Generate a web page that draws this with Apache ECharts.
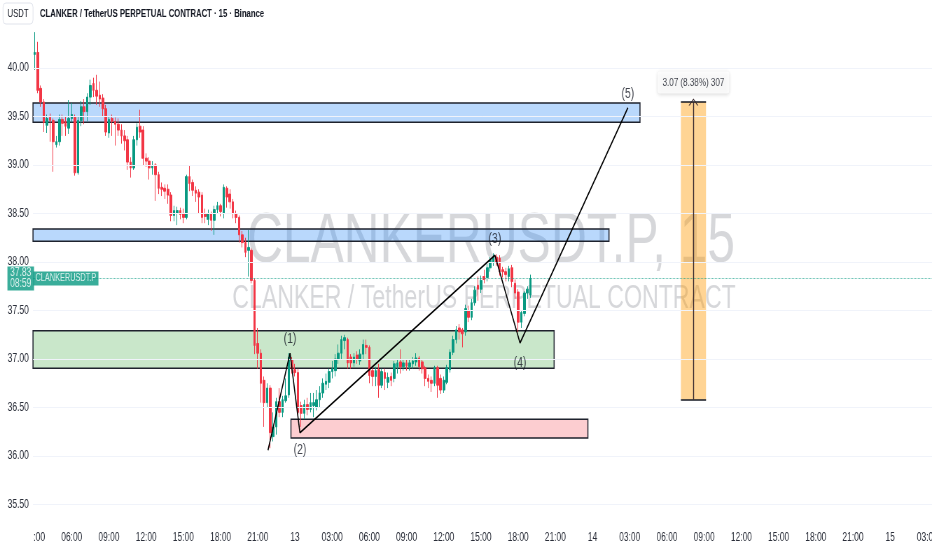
<!DOCTYPE html>
<html>
<head>
<meta charset="utf-8">
<title>CLANKERUSDT.P 15</title>
<script src="https://cdn.jsdelivr.net/npm/echarts@6/dist/echarts.min.js"></script>
<style>
  html, body { margin: 0; padding: 0; background: #fff; overflow: hidden; }
  /* the reference screenshot is squeezed horizontally, draw wide and squeeze the same way */
  #chart { width: 1331px; height: 550px; transform: scaleX(0.70023); transform-origin: 0 0; }
</style>
</head>
<body>
<div id="chart"></div>
<script>
var FONT = "'Liberation Sans', Arial, sans-serif";
var S = 932 / 1331;
function sx(px) { return px / S; }

// 15 min candles from 12th 03:00, [open, close, low, high]
var candles = [
  [40.14, 40.16, 39.98, 40.37], [40.16, 39.77, 39.74, 40.27], [39.79, 39.65, 39.60, 39.82], [39.65, 39.44, 39.34, 39.68],
  [39.41, 39.48, 39.33, 39.52], [39.49, 39.46, 39.24, 39.53], [39.46, 39.24, 38.93, 39.48], [39.21, 39.24, 39.18, 39.30],
  [39.24, 39.47, 39.20, 39.52], [39.47, 39.43, 39.30, 39.52], [39.45, 39.40, 39.30, 39.50], [39.38, 39.48, 39.32, 39.67],
  [39.48, 39.52, 39.44, 39.64], [39.49, 38.92, 38.89, 39.52], [38.92, 39.46, 38.90, 39.50], [39.46, 39.60, 39.40, 39.66],
  [39.60, 39.55, 39.42, 39.68], [39.55, 39.70, 39.45, 39.74], [39.70, 39.82, 39.62, 39.88], [39.84, 39.77, 39.70, 39.90],
  [39.77, 39.71, 39.62, 39.93], [39.72, 39.68, 39.60, 39.86], [39.69, 39.58, 39.50, 39.73], [39.58, 39.34, 39.30, 39.62],
  [39.33, 39.47, 39.28, 39.50], [39.48, 39.45, 39.30, 39.52], [39.45, 39.42, 39.20, 39.49], [39.42, 39.36, 39.30, 39.48],
  [39.36, 39.30, 39.22, 39.42], [39.30, 39.25, 39.15, 39.36], [39.26, 39.03, 38.95, 39.30], [39.03, 38.97, 38.87, 39.08],
  [38.97, 39.26, 38.95, 39.30], [39.26, 39.39, 39.20, 39.43], [39.40, 39.34, 39.28, 39.57], [39.36, 39.07, 39.00, 39.40],
  [39.07, 39.04, 38.98, 39.12], [39.04, 38.97, 38.85, 39.08], [38.97, 38.99, 38.90, 39.04], [39.00, 38.90, 38.63, 39.02],
  [38.90, 38.76, 38.70, 38.93], [38.77, 38.75, 38.68, 38.82], [38.76, 38.73, 38.65, 38.80], [38.75, 38.69, 38.60, 38.80],
  [38.69, 38.48, 38.42, 38.72], [38.48, 38.53, 38.42, 38.58], [38.50, 38.53, 38.38, 38.57], [38.53, 38.49, 38.44, 38.56],
  [38.50, 38.46, 38.40, 38.55], [38.46, 38.88, 38.44, 38.90], [38.88, 38.81, 38.73, 39.00], [38.82, 38.74, 38.68, 38.85],
  [38.74, 38.71, 38.62, 38.78], [38.72, 38.67, 38.50, 38.75], [38.69, 38.46, 38.40, 38.72], [38.50, 38.47, 38.40, 38.55],
  [38.44, 38.50, 38.38, 38.54], [38.50, 38.43, 38.32, 38.52], [38.43, 38.54, 38.28, 38.58], [38.54, 38.58, 38.50, 38.62],
  [38.58, 38.52, 38.47, 38.60], [38.50, 38.77, 38.45, 38.80], [38.76, 38.67, 38.56, 38.78], [38.70, 38.62, 38.55, 38.75],
  [38.62, 38.50, 38.45, 38.65], [38.50, 38.46, 38.40, 38.53], [38.46, 38.28, 38.20, 38.48], [38.28, 38.20, 38.15, 38.32],
  [38.20, 38.10, 38.05, 38.25], [38.12, 38.15, 37.85, 38.33], [38.12, 37.81, 37.78, 38.14], [37.81, 37.14, 37.05, 37.83],
  [37.16, 37.06, 36.90, 37.32], [37.06, 36.75, 36.55, 37.10], [36.78, 36.55, 36.30, 36.82], [36.55, 36.70, 36.50, 36.75],
  [36.70, 36.24, 36.08, 36.73], [36.20, 36.30, 36.15, 36.45], [36.30, 36.56, 36.22, 36.60], [36.56, 36.45, 36.40, 36.70],
  [36.45, 36.58, 36.40, 36.62], [36.57, 36.62, 36.55, 36.80], [36.63, 37.02, 36.60, 37.06], [36.99, 36.90, 36.85, 37.02],
  [36.89, 36.86, 36.82, 36.95], [36.86, 36.45, 36.42, 36.90], [36.52, 36.44, 36.30, 36.56], [36.44, 36.53, 36.38, 36.58],
  [36.53, 36.48, 36.42, 36.60], [36.48, 36.55, 36.45, 36.65], [36.52, 36.55, 36.40, 36.65], [36.50, 36.58, 36.47, 36.68],
  [36.58, 36.65, 36.50, 36.72], [36.65, 36.75, 36.60, 36.80], [36.74, 36.77, 36.68, 36.85], [36.76, 36.87, 36.70, 36.90],
  [36.87, 36.90, 36.80, 36.98], [36.88, 37.00, 36.82, 37.05], [37.00, 37.06, 36.95, 37.15], [37.06, 37.20, 37.00, 37.24],
  [37.19, 37.22, 37.10, 37.25], [37.20, 36.96, 36.90, 37.22], [37.02, 36.96, 36.90, 37.05], [36.96, 37.02, 36.92, 37.06],
  [37.04, 37.00, 36.95, 37.08], [36.98, 37.05, 36.94, 37.10], [37.05, 37.15, 37.00, 37.20], [37.14, 37.12, 37.05, 37.20],
  [37.12, 36.83, 36.75, 37.14], [36.88, 36.82, 36.72, 36.92], [36.82, 36.88, 36.72, 36.92], [36.89, 36.73, 36.60, 36.95],
  [36.73, 36.87, 36.70, 36.90], [36.86, 36.80, 36.68, 36.90], [36.76, 36.81, 36.70, 36.86], [36.82, 36.78, 36.72, 36.86],
  [36.80, 36.95, 36.76, 36.98], [36.92, 36.96, 36.85, 37.00], [36.97, 36.92, 36.85, 37.10], [36.92, 36.96, 36.88, 37.00],
  [36.96, 36.93, 36.88, 37.00], [36.92, 36.96, 36.88, 37.00], [36.95, 36.98, 36.90, 37.02], [36.97, 37.01, 36.93, 37.06],
  [37.01, 36.92, 36.88, 37.03], [36.97, 36.90, 36.85, 37.00], [36.91, 36.80, 36.72, 36.93], [36.80, 36.77, 36.70, 36.84],
  [36.78, 36.75, 36.66, 36.82], [36.75, 36.91, 36.72, 36.93], [36.91, 36.73, 36.60, 36.93], [36.80, 36.68, 36.64, 36.84],
  [36.68, 36.78, 36.65, 36.82], [36.76, 36.91, 36.74, 36.94], [36.89, 37.07, 36.86, 37.10], [37.07, 37.20, 37.04, 37.24],
  [37.20, 37.30, 37.16, 37.34], [37.32, 37.28, 37.20, 37.36], [37.30, 37.26, 37.12, 37.32], [37.28, 37.52, 37.24, 37.56],
  [37.50, 37.43, 37.38, 37.55], [37.43, 37.58, 37.40, 37.62], [37.58, 37.71, 37.55, 37.75], [37.76, 37.72, 37.60, 37.85],
  [37.72, 37.81, 37.68, 37.86], [37.85, 37.82, 37.78, 37.92], [37.84, 37.94, 37.80, 37.98], [37.94, 38.02, 37.90, 38.05],
  [38.00, 38.05, 37.96, 38.09], [38.05, 38.00, 37.96, 38.08], [38.04, 37.90, 37.86, 38.07], [37.92, 37.90, 37.84, 37.95],
  [37.90, 37.87, 37.80, 37.94], [37.85, 37.93, 37.80, 37.96], [37.94, 37.80, 37.74, 37.97], [37.78, 37.68, 37.62, 37.82],
  [37.69, 37.38, 37.28, 37.72], [37.38, 37.48, 37.32, 37.50], [37.47, 37.68, 37.44, 37.70], [37.68, 37.72, 37.62, 37.75],
  [37.66, 37.83, 37.63, 37.87]
];

var slotCount = 290;          // 15 min slots on the time scale
var startMinutes = 3 * 60;    // 12th, 03:00
var startDay = 12;
var priceTicks = [35.5, 36.0, 36.5, 37.0, 37.5, 38.0, 38.5, 39.0, 39.5, 40.0];
var lastPrice = 37.83;
var countdown = '08:59';
var symbolName = 'CLANKERUSDT.P';

// drawings: x in slot units, y in price
var zoneFrom = [-0.5, -0.5, -0.5, 82.7];
var zoneTo = [195.3, 185.3, 167.6, 178.5];
var zoneTop = [39.64, 38.34, 37.29, 36.38];
var zoneBottom = [39.44, 38.215, 36.905, 36.185];
var zoneFill = ['rgba(50,140,245,0.34)', 'rgba(50,140,245,0.34)', 'rgba(76,175,80,0.3)', 'rgba(242,54,69,0.25)'];

var waveX = [75.3, 82.4, 85.6, 148.5, 156.6, 191.4];
var waveY = [36.06, 37.06, 36.24, 38.07, 37.165, 39.59];
var waveNames = ['', '(1)', '(2)', '(3)', '(4)', '(5)'];
var wavePos = ['top', 'top', 'bottom', 'top', 'bottom', 'top'];
var waveGap = [0, 6, 9, 8, 12, 6];

var measureFrom = 208.5, measureTo = 216.6;
var measureLow = 36.58, measureHigh = 39.65;
var measureText = '3.07 (8.38%) 307';

function pad(n) { return n < 10 ? '0' + n : '' + n; }

var categories = [];
for (var i = 0; i < slotCount; i++) {
    var mins = startMinutes + i * 15;
    var m = mins % 1440;
    var day = startDay + Math.floor(mins / 1440);
    categories.push(m === 0 ? String(day) : pad(Math.floor(m / 60)) + ':' + pad(m % 60));
}

var up = '#089981', down = '#f23645';
var measureMid = (measureFrom + measureTo) / 2;

var chart = echarts.init(document.getElementById('chart'));

var zoneAreas = zoneFrom.map(function (x, k) {
    return [
        { coord: [x, zoneTop[k]], itemStyle: { color: zoneFill[k], borderColor: '#1e222d', borderWidth: 1.5 } },
        { coord: [zoneTo[k], zoneBottom[k]] }
    ];
});
zoneAreas.push([
    { coord: [measureFrom, measureHigh], itemStyle: { color: 'rgba(255,152,0,0.42)', borderWidth: 0 } },
    { coord: [measureTo, measureLow] }
]);

chart.setOption({
    animation: false,
    grid: { left: sx(33), right: 0, top: 25, bottom: 25, containLabel: false, outerBoundsMode: 'none' },
    xAxis: [{
        type: 'category',
        data: categories,
        boundaryGap: true,
        axisLine: { show: false },
        axisTick: { show: false },
        splitLine: { show: false },
        axisLabel: {
            interval: function (idx) { return idx % 12 === 0; },
            margin: 7,
            fontSize: 12,
            color: '#2a2e39',
            fontFamily: FONT
        }
    }, {
        type: 'value',
        min: -0.5,
        max: slotCount - 0.5,
        show: false
    }],
    yAxis: {
        type: 'value',
        position: 'left',
        min: 40 - (525 - 68) / 97,
        max: 40 + (68 - 25) / 97,
        axisLine: { show: false },
        axisTick: { show: false },
        splitLine: { show: false },
        axisLabel: {
            customValues: priceTicks,
            formatter: function (v) { return v.toFixed(2); },
            margin: 6,
            fontSize: 12,
            color: '#2a2e39',
            fontFamily: FONT
        }
    },
    graphic: [
        { type: 'rect', z: 100, shape: { x: 0, y: 526, width: sx(33), height: 24 }, style: { fill: '#fff' } },
        { type: 'rect', shape: { x: sx(3), y: 3, width: sx(30), height: 21, r: 4 }, style: { fill: '#fff', stroke: '#e0e3eb', lineWidth: 1 } },
        { type: 'text', x: sx(18), y: 14, style: { text: 'USDT', font: '11px ' + FONT, fill: '#131722', align: 'center', verticalAlign: 'middle' } },
        { type: 'text', x: sx(40), y: 14, style: { text: 'CLANKER / TetherUS PERPETUAL CONTRACT · 15 · Binance', font: 'bold 11px ' + FONT, fill: '#131722', align: 'left', verticalAlign: 'middle' } },
        { type: 'text', z: -10, x: sx(491), y: 242, style: { text: 'CLANKERUSDT.P, 15', font: '71px ' + FONT, fill: 'rgba(120,123,134,0.3)', align: 'center', verticalAlign: 'middle' } },
        { type: 'text', z: -10, x: sx(484), y: 299, style: { text: 'CLANKER / TetherUS PERPETUAL CONTRACT', font: '33px ' + FONT, fill: 'rgba(120,123,134,0.3)', align: 'center', verticalAlign: 'middle' } }
    ],
    series: [{
        // horizontal grid lines
        type: 'line',
        xAxisIndex: 1,
        data: [],
        z: 0,
        markLine: {
            silent: true,
            symbol: 'none',
            label: { show: false },
            lineStyle: { color: '#f0f3fa', width: 1, type: 'solid' },
            data: priceTicks.map(function (v) { return { yAxis: v }; })
        }
    }, {
        type: 'candlestick',
        data: candles,
        barWidth: '70%',
        z: 3,
        itemStyle: { color: up, color0: down, borderColor: up, borderColor0: down, borderWidth: 1 },
        markLine: {
            silent: true,
            symbol: 'none',
            label: { show: false },
            lineStyle: { color: up, width: 1, type: 'dotted', opacity: 0.7 },
            data: [{ yAxis: lastPrice }]
        }
    }, {
        type: 'line',
        xAxisIndex: 1,
        z: 5,
        data: waveX.map(function (x, k) { return [x, waveY[k]]; }),
        symbol: 'none',
        lineStyle: { color: '#000', width: 1.6 },
        markArea: { silent: true, data: zoneAreas },
        markLine: {
            silent: true,
            label: { show: false },
            lineStyle: { color: '#131722', width: 1.5, type: 'solid' },
            symbol: 'none',
            data: [
                [{ coord: [measureFrom, measureHigh] }, { coord: [measureTo, measureHigh] }],
                [{ coord: [measureFrom, measureLow] }, { coord: [measureTo, measureLow] }],
                [{ coord: [measureMid, measureLow], symbol: 'none' },
                 { coord: [measureMid, measureHigh], symbol: 'path://M0,10 L5,0 L10,10 L8.8,10 L5,2.2 L1.2,10 Z', symbolSize: [14, 7], lineStyle: { width: 1.4, color: '#3a2a2e' } }]
            ]
        }
    }, {
        type: 'scatter',
        xAxisIndex: 1,
        z: 6,
        symbolSize: 1,
        itemStyle: { color: 'rgba(0,0,0,0)' },
        data: waveX.map(function (x, k) {
            return {
                value: [x, waveY[k]],
                label: { show: waveNames[k] !== '', formatter: waveNames[k], position: wavePos[k], distance: waveGap[k] }
            };
        }).concat([{
            value: [measureMid, measureHigh],
            label: {
                show: true, formatter: measureText, position: 'top', distance: 8,
                backgroundColor: '#fff', padding: [5, 7], borderRadius: 3,
                shadowColor: 'rgba(0,0,0,0.2)', shadowBlur: 4, shadowOffsetY: 1,
                fontSize: 11.5, color: '#131722'
            }
        }, {
            value: [-0.5, lastPrice],
            label: {
                show: true, formatter: lastPrice.toFixed(2) + '\n' + countdown, position: 'left', distance: -2,
                backgroundColor: up, color: '#fff', padding: [1, 4], fontSize: 12, lineHeight: 11
            }
        }, {
            value: [-0.5, lastPrice],
            label: {
                show: true, formatter: symbolName, position: 'right', distance: 0,
                backgroundColor: up, color: '#fff', padding: [2, 3], fontSize: 10.5, lineHeight: 10
            }
        }]),
        label: { fontSize: 15, color: '#131722', fontFamily: FONT }
    }]
});
</script>
</body>
</html>
